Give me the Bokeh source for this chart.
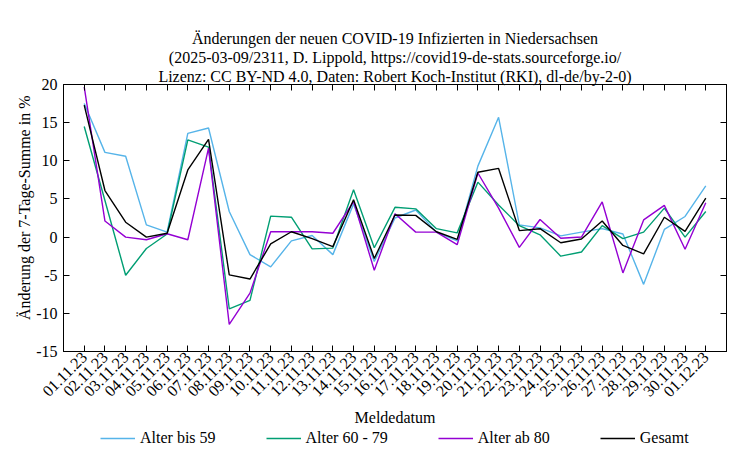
import math
from bokeh.plotting import figure
from bokeh.layouts import column
from bokeh.models import (FixedTicker, LinearAxis, Legend, LegendItem, Title,
                          Range1d, ColumnDataSource)
from bokeh.embed import file_html
from bokeh.resources import INLINE

dates = ["01.11.23", "02.11.23", "03.11.23", "04.11.23", "05.11.23", "06.11.23",
         "07.11.23", "08.11.23", "09.11.23", "10.11.23", "11.11.23", "12.11.23",
         "13.11.23", "14.11.23", "15.11.23", "16.11.23", "17.11.23", "18.11.23",
         "19.11.23", "20.11.23", "21.11.23", "22.11.23", "23.11.23", "24.11.23",
         "25.11.23", "26.11.23", "27.11.23", "28.11.23", "29.11.23", "30.11.23",
         "01.12.23"]

alter_bis_59 = [17.5, 11.1, 10.6, 1.6, 0.65, 13.6, 14.3, 3.35, -2.3, -3.9,
                -0.5, 0.2, -2.3, 4.35, -3.2, 2.5, 3.55, 0.65, -0.5, 9.3,
                15.7, 1.6, 1.2, 0.15, 0.65, 1.1, 0.4, -6.2, 1.0, 2.7, 6.7]
alter_60_79 = [14.5, 4.8, -5.0, -1.5, 0.4, 12.75, 11.8, -9.4, -8.3, 2.75,
               2.6, -1.55, -1.45, 6.2, -1.4, 3.9, 3.7, 1.1, 0.55, 7.2,
               4.2, 1.5, 0.3, -2.5, -1.95, 1.5, -0.2, 0.65, 3.8, 0.0, 3.35]
alter_ab_80 = [19.7, 2.1, 0.0, -0.35, 0.43, -0.35, 11.65, -11.45, -7.35, 0.7,
               0.7, 0.7, 0.5, 4.65, -4.35, 3.05, 0.65, 0.65, -1.0, 8.4,
               3.8, -1.35, 2.3, -0.15, 0.0, 4.6, -4.7, 2.25, 4.15, -1.6, 4.5]
gesamt = [17.3, 6.1, 1.95, 0.0, 0.5, 8.8, 12.8, -4.95, -5.5, -0.9,
          0.7, -0.2, -1.25, 4.9, -2.8, 2.9, 2.85, 0.7, -0.3, 8.5,
          9.0, 0.85, 1.1, -0.75, -0.25, 2.1, -1.1, -2.2, 2.6, 0.75, 5.1]

y_ticks = [-15, -10, -5, 0, 5, 10, 15, 20]
y_tick_labels = ["-15", "-10", "-5", "0", "5", "10", "15", "20"]

series_names = ["Alter bis 59", "Alter 60 - 79", "Alter ab 80", "Gesamt"]
series_colors = ["#56b4e9", "#009e73", "#9400d3", "#000000"]

title_lines = [
    "Änderungen der neuen COVID-19 Infizierten in Niedersachsen",
    "(2025-03-09/2311, D. Lippold, https://covid19-de-stats.sourceforge.io/",
    "Lizenz: CC BY-ND 4.0, Daten: Robert Koch-Institut (RKI), dl-de/by-2-0)",
]
y_label = "Änderung der 7-Tage-Summe in %"
x_label = "Meldedatum"

FONT = "Liberation Serif"
FS = "16px"

x_idx = list(range(len(dates)))
src = ColumnDataSource(dict(x=x_idx, a=alter_bis_59, b=alter_60_79,
                            c=alter_ab_80, g=gesamt))
cols = ["a", "b", "c", "g"]

# ---------------- main chart ----------------
p = figure(width=742, height=428, output_backend="svg", toolbar_location=None,
           x_range=Range1d(-1, 31), y_range=Range1d(-15, 20),
           min_border_left=63, min_border_right=16, min_border_top=84,
           min_border_bottom=77)
p.xgrid.visible = False
p.ygrid.visible = False
p.outline_line_color = "black"
p.outline_line_width = 1

for col, color in zip(cols, series_colors):
    p.line("x", col, source=src, line_color=color, line_width=1.4)

# x axis
xa = p.xaxis[0]
xa.ticker = FixedTicker(ticks=x_idx)
xa.major_label_overrides = {i: d for i, d in zip(x_idx, dates)}
xa.major_label_orientation = math.pi / 4
xa.major_tick_in = 6
xa.major_tick_out = 0
xa.minor_tick_line_color = None
xa.major_label_standoff = 3
xa.major_label_text_font = FONT
xa.major_label_text_font_size = FS
xa.major_label_text_color = "black"
xa.axis_label = x_label
xa.axis_label_text_font = FONT
xa.axis_label_text_font_size = FS
xa.axis_label_text_font_style = "normal"
xa.axis_label_text_color = "black"
xa.axis_label_standoff = 4

# y axis
ya = p.yaxis[0]
ya.ticker = FixedTicker(ticks=y_ticks)
ya.major_label_overrides = {t: l for t, l in zip(y_ticks, y_tick_labels)}
ya.major_tick_in = 6
ya.major_tick_out = 0
ya.minor_tick_line_color = None
ya.major_label_standoff = 6
ya.major_label_text_font = FONT
ya.major_label_text_font_size = FS
ya.major_label_text_color = "black"

# mirrored ticks (top / right), without labels
ra = LinearAxis(ticker=FixedTicker(ticks=y_ticks),
                major_label_overrides={t: "" for t in y_ticks},
                major_tick_in=6, major_tick_out=0, minor_tick_line_color=None,
                major_label_standoff=0)
p.add_layout(ra, "right")
ta = LinearAxis(ticker=FixedTicker(ticks=x_idx),
                major_label_overrides={i: "" for i in x_idx},
                major_tick_in=6, major_tick_out=0, minor_tick_line_color=None,
                major_label_standoff=0)
p.add_layout(ta, "above")

for line in reversed(title_lines):
    p.add_layout(Title(text=line, align="center", text_font=FONT,
                       text_font_size=FS, text_font_style="normal",
                       text_color="black", standoff=0), "above")

p.add_layout(Title(text=y_label, align="right", offset=11, text_font=FONT,
                   text_font_size=FS, text_font_style="normal",
                   text_color="black", standoff=2),
             "left")

# ---------------- legend strip ----------------
lg = figure(width=742, height=20, output_backend="svg", toolbar_location=None,
            x_range=Range1d(0, 1), y_range=Range1d(0, 1),
            x_axis_location=None, y_axis_location=None, min_border=0)
lg.xgrid.visible = False
lg.ygrid.visible = False
lg.outline_line_color = None

legend_renderers = []
for col, color in zip(cols, series_colors):
    r = lg.line("x", col, source=src, line_color=color, line_width=1.4,
                visible=False)
    legend_renderers.append(r)

legend = Legend(items=[LegendItem(label=n, renderers=[r])
                       for n, r in zip(series_names, legend_renderers)],
                orientation="horizontal", location=(37, 1), spacing=50,
                padding=0, margin=0, glyph_width=35, glyph_height=16,
                label_height=16, label_standoff=5,
                label_text_font=FONT, label_text_font_size=FS,
                label_text_color="black", inactive_fill_alpha=0,
                border_line_alpha=0, background_fill_alpha=0)
lg.add_layout(legend)

layout = column(p, lg, spacing=0)
open("out.html", "w").write(file_html(layout, INLINE))
